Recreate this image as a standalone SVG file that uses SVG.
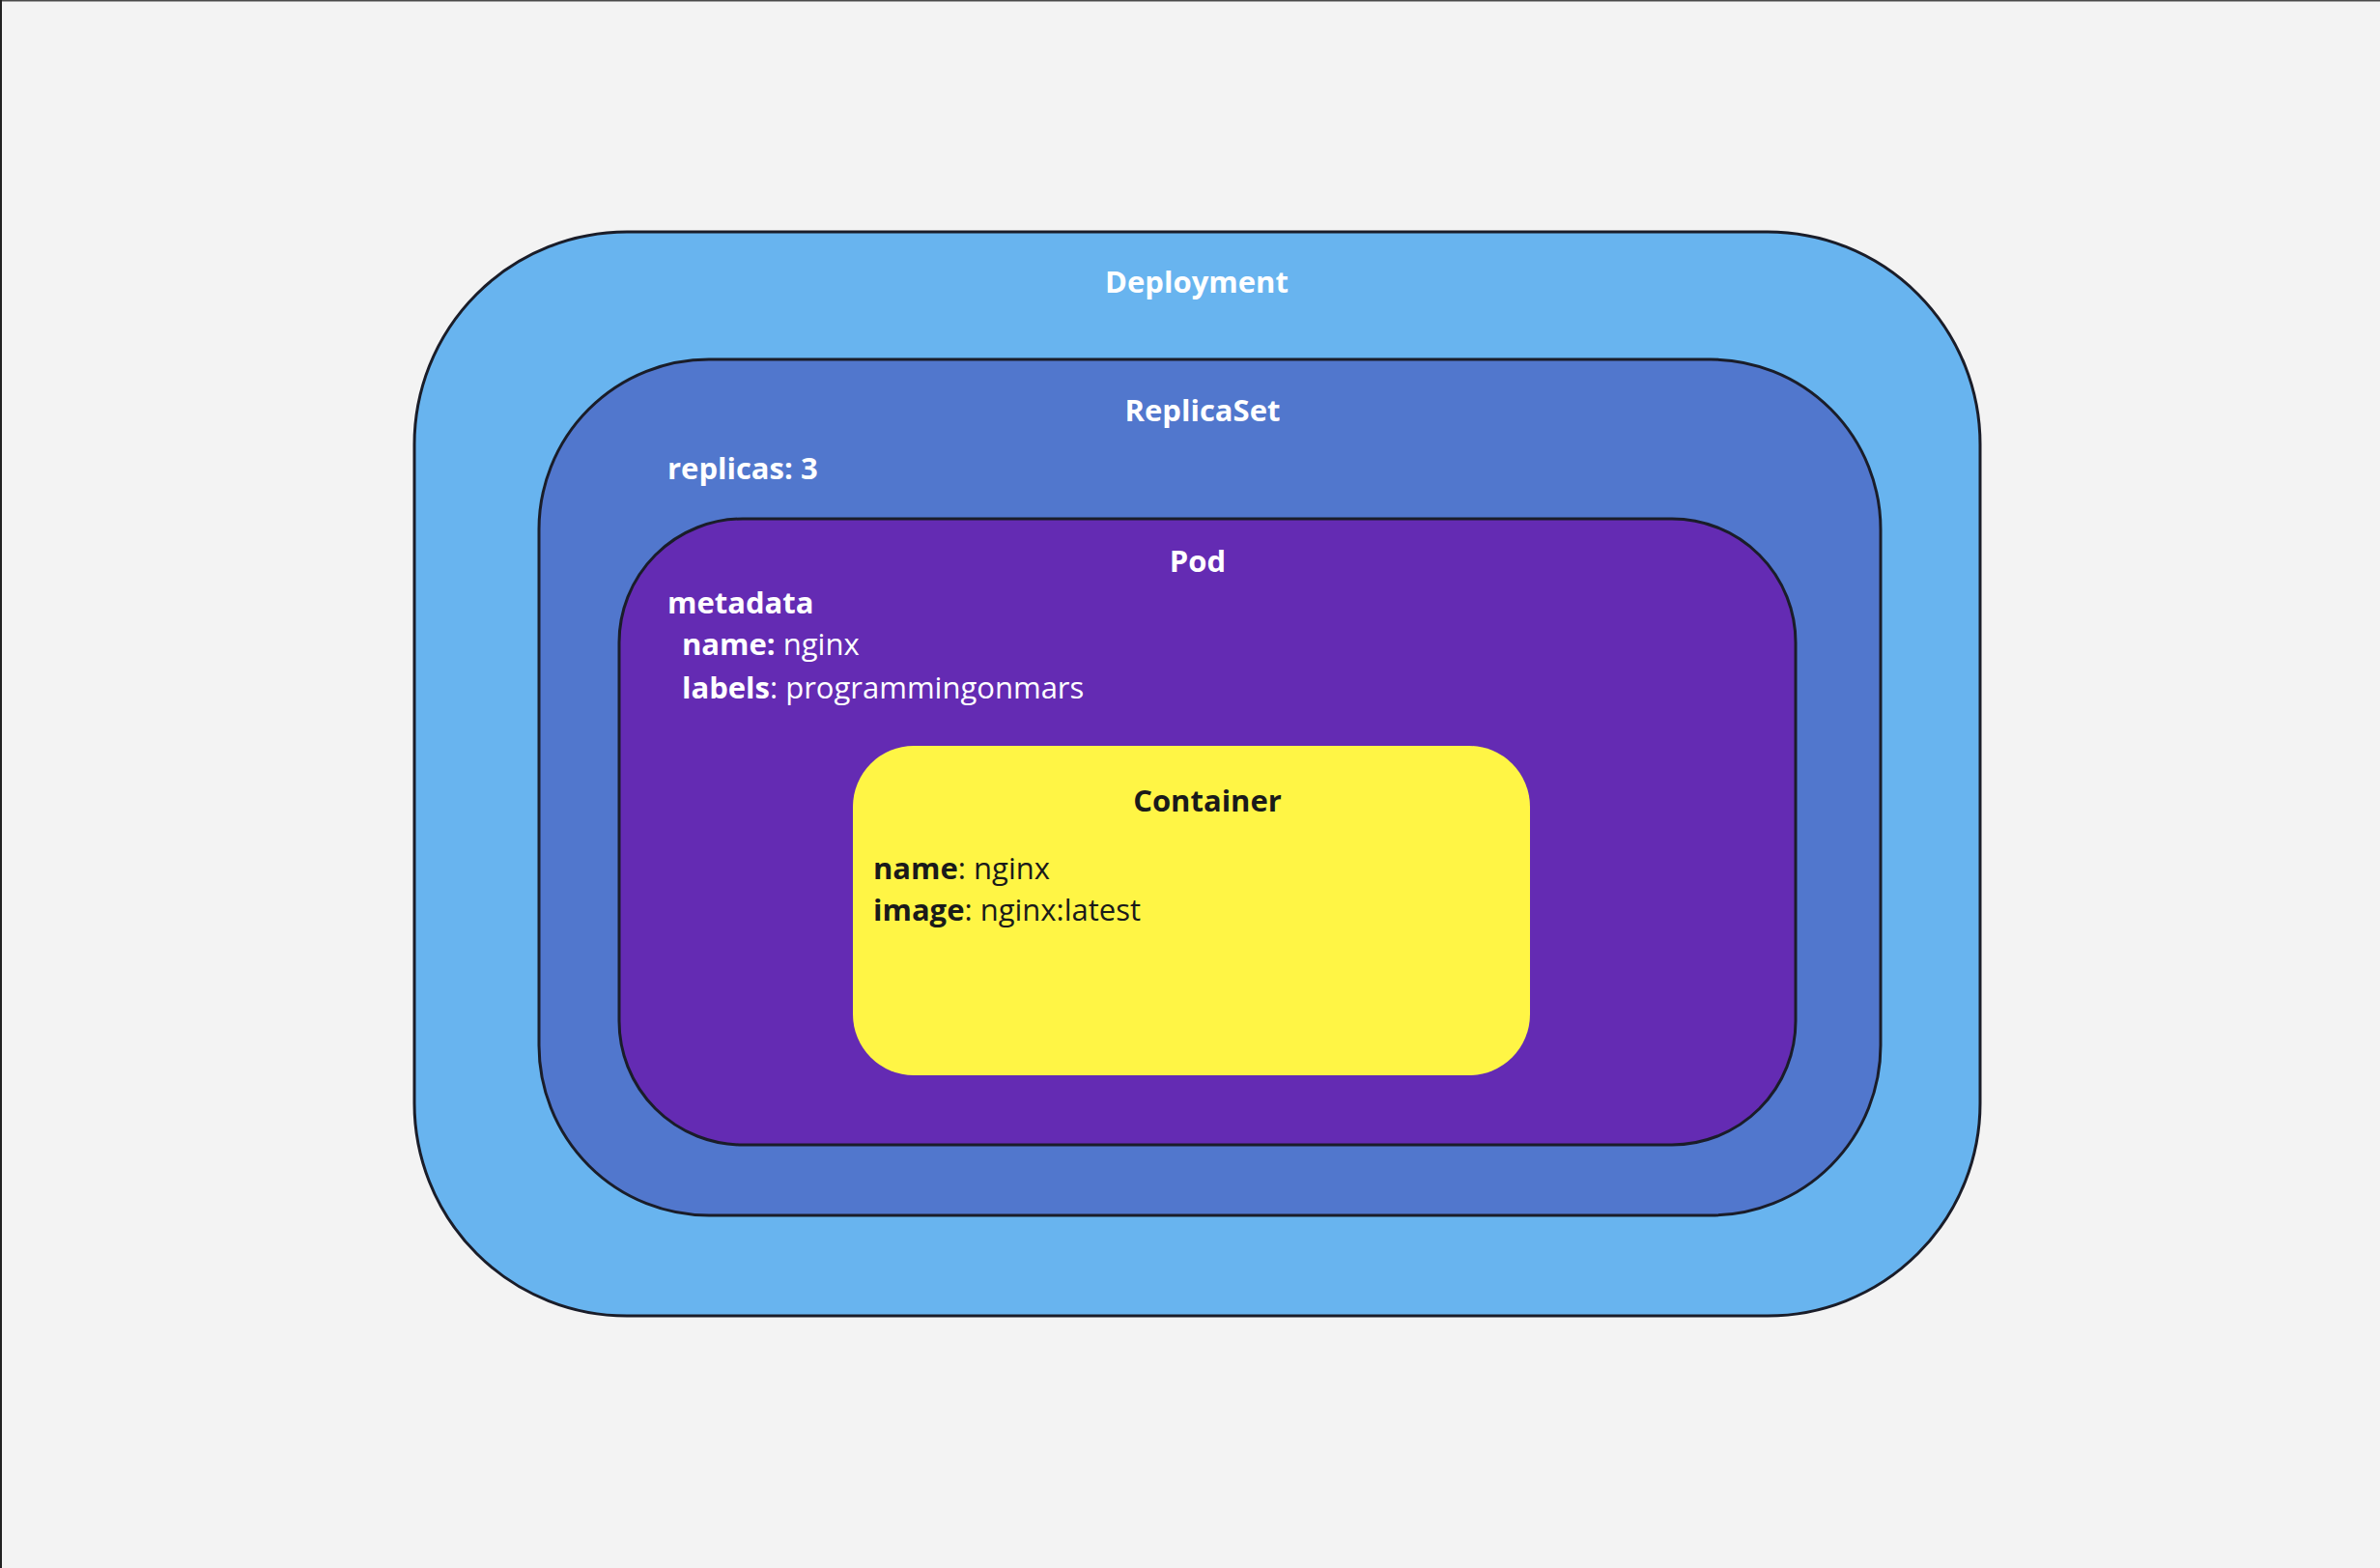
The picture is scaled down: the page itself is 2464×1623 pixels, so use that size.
<svg xmlns="http://www.w3.org/2000/svg" width="2464" height="1623" viewBox="0 0 2464 1623">
<style>
.box{stroke:#1a1d29;stroke-width:3}
text{font-family:"Open Sans","Noto Sans","Liberation Sans",sans-serif;font-size:31px}
.w{fill:#ffffff}
.d{fill:#1a1a1a}
.b{font-weight:700}
.r{font-weight:400}
.c{text-anchor:middle}
</style>
<rect x="0" y="0" width="2464" height="1623" fill="#f3f3f3"/>
<rect x="0" y="0" width="2464" height="1.5" fill="#4a4a4a"/>
<rect x="0" y="0" width="2" height="1623" fill="#222222"/>
<g id="deployment">
<rect class="box" x="429" y="240" width="1621" height="1122" rx="220" fill="#68b4ef"/>
<text class="w b c" x="1239" y="303">Deployment</text>
</g>
<g id="replicaset">
<rect class="box" x="558" y="372" width="1389" height="886" rx="176" fill="#5177cd"/>
<text class="w b c" x="1245" y="436">ReplicaSet</text>
<text class="w b" x="691" y="496">replicas: 3</text>
</g>
<g id="pod">
<rect class="box" x="641" y="537" width="1218" height="648" rx="128" fill="#642bb3"/>
<text class="w b c" x="1240" y="592">Pod</text>
<text class="w b" x="691" y="635">metadata</text>
<text class="w" x="706" y="678"><tspan class="b">name:</tspan><tspan class="r"> nginx</tspan></text>
<text class="w" x="706" y="723"><tspan class="b">labels</tspan><tspan class="r">: programmingonmars</tspan></text>
</g>
<g id="container">
<rect x="883" y="772" width="701" height="341" rx="63" fill="#fff545"/>
<text class="d b c" x="1250" y="840">Container</text>
<text class="d" x="904" y="910"><tspan class="b">name</tspan><tspan class="r">: nginx</tspan></text>
<text class="d" x="904" y="953"><tspan class="b">image</tspan><tspan class="r">: nginx:latest</tspan></text>
</g>
<g id="connectors"></g>
</svg>
